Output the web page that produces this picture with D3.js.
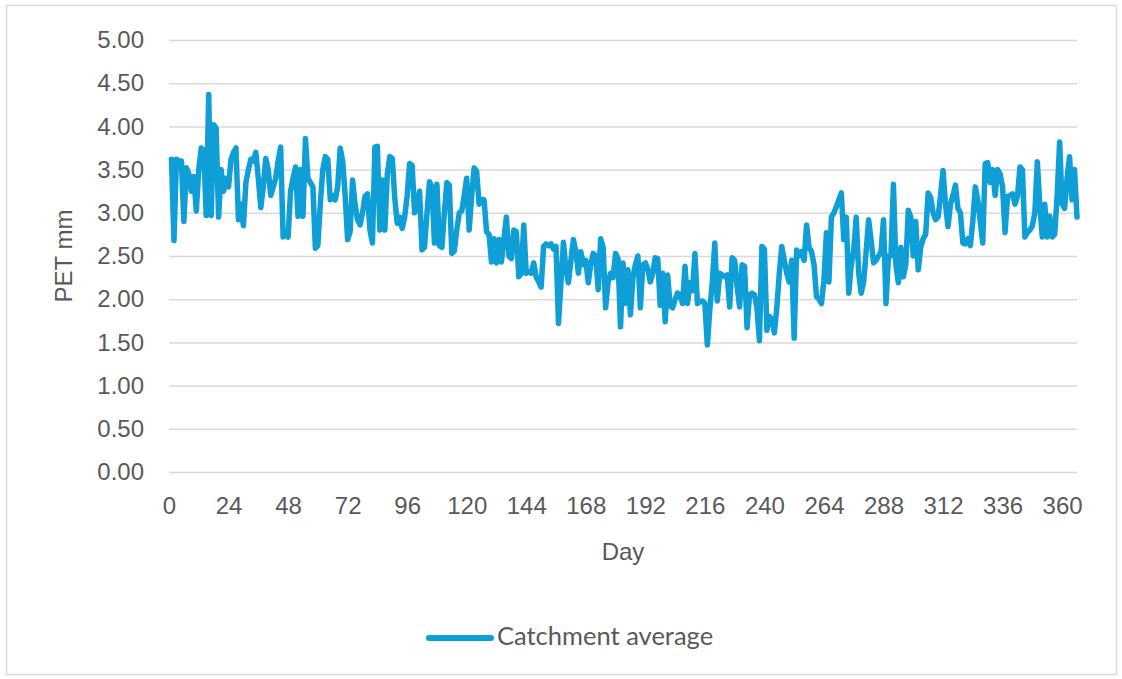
<!DOCTYPE html>
<html>
<head>
<meta charset="utf-8">
<script src="https://cdn.jsdelivr.net/npm/d3@7"></script>
<style>
  html, body { margin: 0; padding: 0; background: #ffffff; }
  svg { display: block; }
</style>
</head>
<body>
<svg id="chart" width="1122" height="679"></svg>
<script>
// ---- data ----
const seriesName = "Catchment average";
const xTitle = "Day";
const yTitle = "PET mm";
const xTickValues = [0, 24, 48, 72, 96, 120, 144, 168, 192, 216, 240, 264, 288, 312, 336, 360];
const yTickValues = [0, 0.5, 1, 1.5, 2, 2.5, 3, 3.5, 4, 4.5, 5];
const firstDay = 1;
const petValues = [
  3.62, 2.68, 3.62, 3.6, 3.6, 2.9, 3.52, 3.45, 3.25, 3.42,
  3.02, 3.5, 3.75, 3.72, 2.97, 4.37, 2.97, 4.02, 3.98, 2.95,
  3.5, 3.25, 3.4, 3.3, 3.62, 3.7, 3.75, 2.92, 3.1, 2.85,
  3.35, 3.5, 3.62, 3.6, 3.7, 3.4, 3.06, 3.3, 3.63, 3.5,
  3.2, 3.3, 3.4, 3.6, 3.76, 2.72, 2.75, 2.72, 3.25, 3.4,
  3.53, 2.96, 3.5, 2.96, 3.86, 3.4, 3.35, 3.3, 2.59, 2.62,
  3.11, 3.5, 3.65, 3.62, 3.15, 3.2, 3.15, 3.3, 3.75, 3.6,
  3.2, 2.69, 2.78, 3.38, 3.1, 2.92, 2.86, 3.0, 3.19, 3.22,
  2.8, 2.65, 3.76, 3.77, 2.8, 3.38, 2.8, 3.45, 3.65, 3.63,
  3.17, 2.88, 2.95, 2.82, 2.95, 3.2, 3.57, 3.55, 3.0, 3.1,
  3.25, 2.57, 2.6, 3.0, 3.36, 3.3, 2.65, 3.33, 2.62, 2.6,
  3.0, 3.35, 3.32, 2.53, 2.56, 2.8, 3.0, 3.02, 3.2, 3.4,
  2.8, 3.2, 3.52, 3.48, 3.1, 3.15, 3.15, 2.78, 2.75, 2.43,
  2.7, 2.42, 2.69, 2.43, 2.7, 2.95, 2.5, 2.47, 2.8, 2.78,
  2.26, 2.3, 2.86, 2.3, 2.32, 2.3, 2.42, 2.26, 2.2, 2.14,
  2.61, 2.64, 2.62, 2.64, 2.58, 2.61, 1.72, 2.2, 2.66, 2.35,
  2.19, 2.45, 2.69, 2.55, 2.3, 2.55, 2.4, 2.45, 2.19, 2.4,
  2.53, 2.5, 2.11, 2.7, 2.6, 1.9, 2.2, 2.3, 2.25, 2.53,
  2.47, 1.68, 2.42, 1.95, 2.34, 1.82, 2.25, 2.4, 2.5, 1.9,
  2.4, 2.42, 2.35, 2.2, 2.3, 2.48, 2.47, 1.93, 2.3, 1.74,
  2.28, 1.92, 1.9, 2.0, 2.07, 2.05, 1.95, 2.38, 1.95, 2.19,
  2.1, 2.53, 1.95, 1.97, 1.98, 1.95, 1.47, 1.88, 2.2, 2.65,
  1.98, 2.3, 2.28, 2.26, 2.28, 1.91, 2.48, 2.45, 2.15, 1.91,
  2.4, 2.38, 1.67, 2.05, 2.07, 2.05, 1.9, 1.52, 2.61, 2.58,
  1.64, 1.8, 1.77, 1.61, 1.9, 2.3, 2.61, 2.45, 2.3, 2.2,
  2.45, 1.55, 2.57, 2.5, 2.55, 2.45, 2.86, 2.6, 2.55, 2.4,
  2.03, 2.0, 1.95, 2.22, 2.77, 2.2, 2.95, 3.0, 3.07, 3.15,
  3.23, 2.69, 2.95, 2.07, 2.4, 2.57, 2.95, 2.3, 2.07, 2.2,
  2.55, 2.92, 2.69, 2.42, 2.45, 2.5, 2.55, 2.92, 1.95, 2.5,
  2.5, 3.33, 2.4, 2.19, 2.6, 2.26, 2.4, 3.03, 2.95, 2.5,
  2.9, 2.34, 2.6, 2.7, 2.75, 3.23, 3.18, 3.0, 2.92, 2.95,
  3.2, 3.49, 3.1, 2.84, 3.1, 3.2, 3.32, 3.05, 3.0, 2.65,
  2.64, 2.7, 2.62, 2.9, 3.3, 3.15, 2.9, 2.65, 3.57, 3.58,
  3.35, 3.5, 3.2, 3.5, 3.45, 3.3, 2.77, 3.19, 3.2, 3.22,
  3.1, 3.19, 3.53, 3.5, 2.72, 2.77, 2.8, 2.85, 3.0, 3.59,
  3.1, 2.72, 3.1, 2.72, 2.96, 2.72, 2.75, 3.2, 3.82, 3.1,
  3.05, 3.4, 3.65, 3.15, 3.5, 2.95
];
const series = petValues.map((v, i) => ({ day: firstDay + i, value: v }));

// ---- layout ----
const svg = d3.select("#chart");
const W = 1122, H = 679;
const plot = { left: 169, right: 1077, top: 40, bottom: 472 };
const lineColor = "#0F9ED5";
const gridColor = "#D9D9D9";
const textColor = "#595959";
const tickFont = "'Liberation Sans', Arial, sans-serif";

svg.append("rect")
  .attr("x", 6.5).attr("y", 5.5)
  .attr("width", W - 12).attr("height", H - 10)
  .attr("fill", "#ffffff")
  .attr("stroke", gridColor).attr("stroke-width", 1.5);

const x = d3.scaleLinear().domain([0, 366]).range([plot.left, plot.right]);
const y = d3.scaleLinear().domain([0, 5]).range([plot.bottom, plot.top]);

// horizontal gridlines + y labels via axis
const yAxis = d3.axisLeft(y)
  .tickValues(yTickValues)
  .tickSize(-(plot.right - plot.left))
  .tickPadding(25)
  .tickFormat(d3.format(".2f"));
const gy = svg.append("g")
  .attr("transform", `translate(${plot.left},0)`)
  .call(yAxis);
gy.select(".domain").remove();
gy.selectAll(".tick line").attr("stroke", gridColor).attr("stroke-width", 1.5);
gy.selectAll(".tick text")
  .attr("fill", textColor)
  .style("font-family", tickFont)
  .style("font-size", "24px");

// x labels via axis
const xAxis = d3.axisBottom(x)
  .tickValues(xTickValues)
  .tickSize(0)
  .tickPadding(27)
  .tickFormat(d3.format("d"));
const gx = svg.append("g")
  .attr("transform", `translate(0,${plot.bottom})`)
  .call(xAxis);
gx.select(".domain").remove();
gx.selectAll(".tick text")
  .attr("fill", textColor)
  .attr("dy", "0")
  .attr("dominant-baseline", "middle")
  .attr("y", 36)
  .style("font-family", tickFont)
  .style("font-size", "24px");

// series line
const line = d3.line().x(d => x(d.day)).y(d => y(d.value));
svg.append("path")
  .datum(series)
  .attr("d", line)
  .attr("fill", "none")
  .attr("stroke", lineColor)
  .attr("stroke-width", 5.5)
  .attr("stroke-linejoin", "round")
  .attr("stroke-linecap", "round");

// axis titles
svg.append("text")
  .attr("x", (plot.left + plot.right) / 2)
  .attr("y", 554)
  .attr("text-anchor", "middle")
  .attr("dominant-baseline", "middle")
  .attr("fill", textColor)
  .style("font-family", tickFont)
  .style("font-size", "24px")
  .text(xTitle);

svg.append("text")
  .attr("transform", `translate(66,${(plot.top + plot.bottom) / 2}) rotate(-90)`)
  .attr("text-anchor", "middle")
  .attr("dominant-baseline", "middle")
  .attr("fill", textColor)
  .style("font-family", tickFont)
  .style("font-size", "24px")
  .text(yTitle);

// legend
const lg = svg.append("g");
lg.append("line")
  .attr("x1", 429).attr("x2", 491)
  .attr("y1", 638).attr("y2", 638)
  .attr("stroke", lineColor).attr("stroke-width", 6)
  .attr("stroke-linecap", "round");
lg.append("text")
  .attr("x", 497).attr("y", 639)
  .attr("dominant-baseline", "middle")
  .attr("fill", textColor)
  .style("font-family", "Lato, 'Open Sans', sans-serif")
  .style("font-size", "25.5px")
  .text(seriesName);
</script>
</body>
</html>
